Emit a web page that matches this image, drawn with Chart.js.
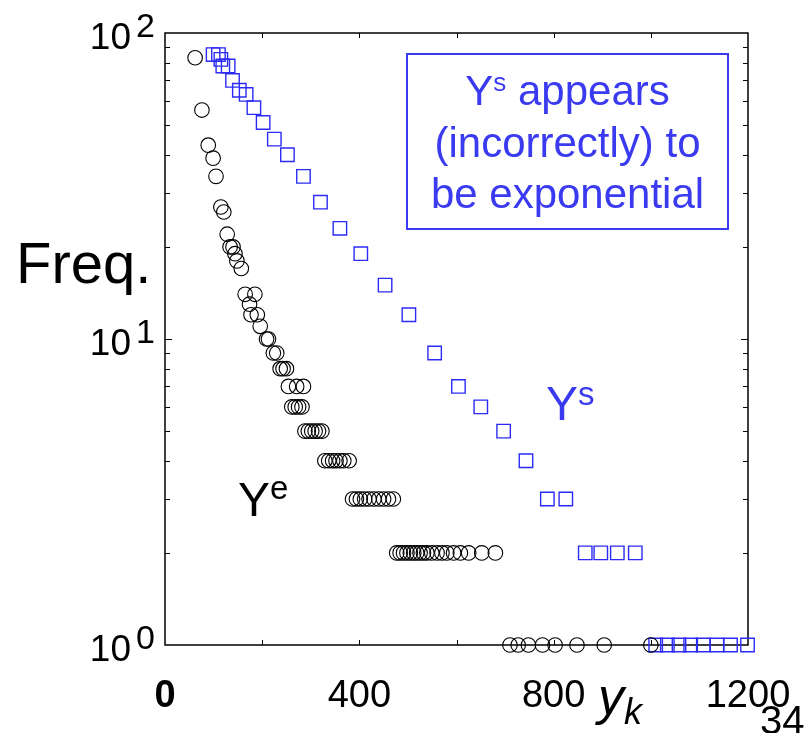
<!DOCTYPE html>
<html>
<head>
<meta charset="utf-8">
<script src="https://cdn.jsdelivr.net/npm/chart.js@4.4.1/dist/chart.umd.min.js"></script>
<style>
  html, body { margin: 0; padding: 0; background: #fff; }
  #wrap { position: relative; width: 812px; height: 733px; }
</style>
</head>
<body>
<div id="wrap"><canvas id="chart" width="812" height="733"></canvas></div>
<script>
// Y^e (circles): distinct values y_k and how often each occurs
const expX = [62, 76, 89, 99, 105, 115, 121, 128, 134, 140, 144, 148, 157,
  165, 185, 174, 177, 190, 196, 209, 213, 223, 230, 237, 243, 250,
  254, 271, 285, 261, 268, 275, 282,
  288, 295, 302, 309, 316, 323,
  329, 337, 345, 352, 360, 368, 379,
  386, 394, 402, 411, 420, 430, 440, 450, 460, 470,
  477, 484, 491, 498, 505, 512, 518, 525, 532, 539, 549, 560, 570, 580, 594, 608, 625, 652, 680,
  710, 727, 748, 777, 803, 848, 904, 1000];
const expFreq = [83, 56, 43, 39, 34, 27, 26, 22, 20, 20, 19, 18, 17,
  14, 14, 13, 12, 12, 11, 10, 10, 9, 9, 8, 8, 8,
  7, 7, 7, 6, 6, 6, 6,
  5, 5, 5, 5, 5, 5,
  4, 4, 4, 4, 4, 4, 4,
  3, 3, 3, 3, 3, 3, 3, 3, 3, 3,
  2, 2, 2, 2, 2, 2, 2, 2, 2, 2, 2, 2, 2, 2, 2, 2, 2, 2, 2,
  1, 1, 1, 1, 1, 1, 1, 1];

// Y^s (squares)
const selfX = [99, 110, 115, 119, 130, 139, 153, 167, 183, 202, 225, 252, 285, 320, 360, 403,
  453, 502, 555, 604, 650, 697, 743, 787, 825, 865, 897, 931, 968,
  1010, 1034, 1058, 1082, 1108, 1136, 1164, 1199];
const selfFreq = [85, 85, 82, 78, 78, 70, 65, 63, 57, 51, 45, 40, 34, 28, 23, 19,
  15, 12, 9, 7, 6, 5, 4, 3, 3, 2, 2, 2, 2,
  1, 1, 1, 1, 1, 1, 1, 1];

const xTickLabels = [0, 400, 800, 1200];
const xTickMarks = [200, 400, 600, 800, 1000];
const yTickPowers = [0, 1, 2];

const BLUE = '#2b2bf5';
const TEXT_BLUE = '#3a3af0';
const FONT = '"Liberation Sans", Arial, Helvetica, sans-serif';

function pts(xs, ys) {
  return xs.map((x, i) => ({ x: x, y: ys[i] }));
}

// draws a row of text pieces [text, font, dy] starting at x
function drawRuns(ctx, runs, x, y, align, color) {
  ctx.fillStyle = color;
  ctx.textBaseline = 'alphabetic';
  ctx.textAlign = 'left';
  let total = 0;
  runs.forEach(r => { ctx.font = r[1]; total += ctx.measureText(r[0]).width; });
  let cx = align === 'center' ? x - total / 2 : (align === 'right' ? x - total : x);
  runs.forEach(r => {
    ctx.font = r[1];
    ctx.fillText(r[0], cx, y + (r[2] || 0));
    cx += ctx.measureText(r[0]).width;
  });
}

const framePlugin = {
  id: 'frame',
  beforeDatasetsDraw(chart) {
    const { ctx, chartArea: a, scales: { x, y } } = chart;
    ctx.save();
    ctx.strokeStyle = '#000';
    ctx.lineWidth = 1.5;
    ctx.strokeRect(a.left, a.top, a.right - a.left, a.bottom - a.top);
    ctx.lineWidth = 1;
    ctx.beginPath();
    // log ticks on left and right, pointing inward
    for (let p = 0; p < 2; p++) {
      for (let m = 2; m <= 10; m++) {
        const v = m * Math.pow(10, p);
        if (v >= 100) continue;
        const py = Math.round(y.getPixelForValue(v)) + 0.5;
        const len = m === 10 ? 7 : 5;
        ctx.moveTo(a.left, py); ctx.lineTo(a.left + len, py);
        ctx.moveTo(a.right, py); ctx.lineTo(a.right - len, py);
      }
    }
    xTickMarks.forEach(v => {
      const px = Math.round(x.getPixelForValue(v)) + 0.5;
      ctx.moveTo(px, a.bottom); ctx.lineTo(px, a.bottom - 5);
      ctx.moveTo(px, a.top); ctx.lineTo(px, a.top + 5);
    });
    ctx.stroke();
    ctx.restore();
  },
  afterDraw(chart) {
    const { ctx, chartArea: a, scales: { x, y } } = chart;
    ctx.save();
    // y tick labels 10^n
    yTickPowers.forEach(p => {
      const py = y.getPixelForValue(Math.pow(10, p));
      drawRuns(ctx, [['10', '37px ' + FONT]], 131, py + 16, 'right', '#000');
      drawRuns(ctx, [[String(p), '34px ' + FONT]], 136, py + 4, 'left', '#000');
    });
    // x tick labels
    xTickLabels.forEach(v => {
      const px = x.getPixelForValue(v);
      const f = (v === 0 ? 'bold ' : '') + '38px ' + FONT;
      drawRuns(ctx, [[String(v), f]], px, 707, 'center', '#000');
    });
    // axis titles
    drawRuns(ctx, [['Freq.', '58px ' + FONT]], 16, 283, 'left', '#000');
    drawRuns(ctx, [['y', 'italic 52px ' + FONT], ['k', 'italic 36px ' + FONT, 10]], 598, 714, 'left', '#000');
    drawRuns(ctx, [['34', '40px ' + FONT]], 760, 734, 'left', '#000');

    // series labels
    drawRuns(ctx, [['Y', '48px ' + FONT], ['e', '33px ' + FONT, -17]], 238, 516, 'left', '#000');
    drawRuns(ctx, [['Y', '48px ' + FONT], ['s', '33px ' + FONT, -15]], 546, 420, 'left', TEXT_BLUE);

    // note box
    ctx.strokeStyle = TEXT_BLUE;
    ctx.lineWidth = 2;
    ctx.strokeRect(407, 54, 321, 175);
    const cx = 567.5;
    drawRuns(ctx, [['Y', '42px ' + FONT], ['s', '26px ' + FONT, -14], [' appears', '42px ' + FONT]], cx, 105, 'center', TEXT_BLUE);
    drawRuns(ctx, [['(incorrectly) to', '42px ' + FONT]], cx, 157, 'center', TEXT_BLUE);
    drawRuns(ctx, [['be exponential', '42px ' + FONT]], cx, 208, 'center', TEXT_BLUE);
    ctx.restore();
  }
};

new Chart(document.getElementById('chart'), {
  type: 'scatter',
  data: {
    datasets: [
      {
        label: 'Ye',
        data: pts(expX, expFreq),
        pointStyle: 'circle',
        pointRadius: 7.3,
        borderColor: '#000',
        backgroundColor: 'rgba(0,0,0,0)',
        borderWidth: 1.1,
        clip: false
      },
      {
        label: 'Ys',
        data: pts(selfX, selfFreq),
        pointStyle: 'rect',
        pointRadius: 9.5,
        borderColor: BLUE,
        backgroundColor: 'rgba(0,0,0,0)',
        borderWidth: 1.4,
        clip: false
      }
    ]
  },
  options: {
    responsive: false,
    animation: false,
    events: [],
    layout: { padding: { left: 165, top: 33, right: 64, bottom: 88 } },
    plugins: { legend: { display: false }, tooltip: { enabled: false } },
    scales: {
      x: { type: 'linear', min: 0, max: 1200, display: false },
      y: { type: 'logarithmic', min: 1, max: 100, display: false }
    }
  },
  plugins: [framePlugin]
});
</script>
</body>
</html>
